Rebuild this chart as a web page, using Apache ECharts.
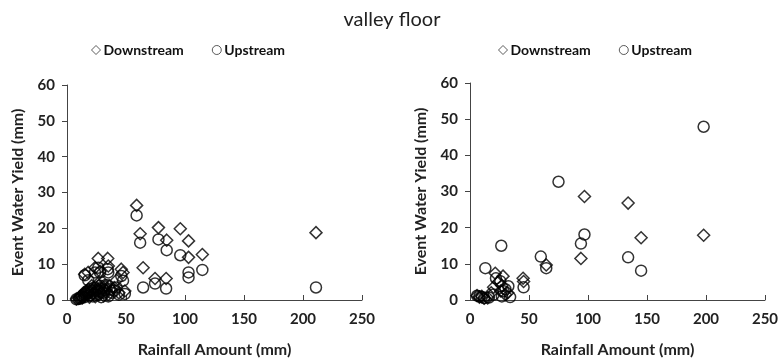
<!DOCTYPE html>
<html>
<head>
<meta charset="utf-8">
<script src="https://cdn.jsdelivr.net/npm/echarts@6/dist/echarts.min.js"></script>
<style>
  html, body { margin: 0; padding: 0; background: #fff; }
  #chart { width: 784px; height: 363px; }
</style>
</head>
<body>
<div id="chart"></div>
<script>
// left panel: each event has one rainfall and two yields
var leftRain = [8, 10, 11, 12, 13, 14, 15, 16, 17, 18, 19, 20, 21, 22, 23, 24, 25, 26, 27, 28, 29, 30, 31, 32, 33, 35, 36, 38, 40, 42, 44, 49,
                15, 18, 23.7, 26.5, 28, 34.5, 35, 46, 47.5, 59, 62, 64.5, 74.6, 77.5, 84, 84.5, 96, 103, 103, 114.7, 211];
var leftDown = [0.3, 0.5, 0.8, 1.2, 0.6, 2.0, 1.0, 2.5, 1.5, 3.0, 0.8, 2.2, 4.0, 1.8, 3.2, 0.9, 2.6, 4.5, 1.4, 3.5, 2.0, 5.0, 1.2, 3.8, 2.5, 1.5, 4.0, 2.8, 3.5, 5.5, 2.0, 2.5,
                7.2, 7.7, 9.0, 11.6, 8.0, 11.6, 9.5, 8.6, 7.7, 26.4, 18.5, 9.0, 6.0, 20.2, 6.0, 16.7, 19.9, 16.5, 11.9, 12.7, 18.8];
var leftUp = [0.2, 0.3, 0.4, 0.6, 1.0, 1.5, 0.8, 1.8, 2.2, 2.0, 1.2, 3.0, 2.5, 1.0, 3.5, 2.0, 1.5, 3.0, 2.5, 4.0, 0.8, 3.2, 2.0, 2.8, 4.2, 1.0, 3.0, 2.0, 2.6, 3.5, 1.5, 1.7,
              6.9, 5.5, 7.7, 9.0, 7.7, 8.6, 7.7, 6.7, 5.4, 23.6, 16.0, 3.5, 4.6, 16.9, 3.2, 13.9, 12.5, 7.7, 6.3, 8.4, 3.5];

// right panel
var rightDownRain = [198, 97, 94, 134, 145, 64.6, 45.4, 45, 21.4, 28, 24, 20, 26, 30, 10, 12, 8, 15, 18, 27, 32, 6];
var rightDown = [17.9, 28.6, 11.5, 26.8, 17.2, 9.7, 5.1, 6.0, 7.4, 6.6, 5.0, 3.5, 2.5, 1.5, 1.0, 0.5, 0.8, 0.6, 2.0, 4.0, 2.0, 1.2];
var rightUpRain = [198, 75, 97, 94, 134, 145, 60, 64.6, 26.5, 13, 45.4, 25.7, 32.5, 34, 28.5, 22, 10, 8, 12, 16, 30, 20, 27, 6];
var rightUp = [47.9, 32.7, 18.1, 15.6, 11.8, 8.1, 12.0, 8.8, 15.0, 8.8, 3.5, 5.2, 3.8, 0.8, 2.4, 6.0, 0.8, 1.0, 0.5, 0.7, 3.0, 1.5, 1.0, 1.2];

var xTicks = [0, 50, 100, 150, 200, 250];
var yTicks = [0, 10, 20, 30, 40, 50, 60];

function pairs(xs, ys) {
  return xs.map(function (x, i) { return [x, ys[i]]; });
}

var font = 'Lato';
var axisColor = '#444';

function xAxis(idx) {
  return {
    gridIndex: idx, type: 'value', min: xTicks[0], max: xTicks[xTicks.length - 1], interval: 50,
    name: 'Rainfall Amount (mm)', nameLocation: 'middle', nameGap: 42,
    nameTextStyle: { fontFamily: font, fontWeight: 'bold', fontSize: 16, color: '#222' },
    axisLine: { lineStyle: { color: axisColor, width: 1 } },
    axisTick: { inside: true, length: 5, lineStyle: { color: axisColor } },
    axisLabel: { margin: 12, fontFamily: font, fontWeight: 'bold', fontSize: 15, color: '#222' },
    splitLine: { show: false }
  };
}
function yAxis(idx) {
  return {
    gridIndex: idx, type: 'value', min: yTicks[0], max: yTicks[yTicks.length - 1], interval: 10,
    name: 'Event Water Yield (mm)', nameLocation: 'middle', nameGap: 41,
    nameTextStyle: { fontFamily: font, fontWeight: 'bold', fontSize: 16, color: '#222' },
    axisLine: { show: true, lineStyle: { color: axisColor, width: 1 } },
    axisTick: { show: true, length: 5, lineStyle: { color: axisColor } },
    axisLabel: { margin: 12, fontFamily: font, fontWeight: 'bold', fontSize: 15, color: '#222' },
    splitLine: { show: false }
  };
}
var hollow = { color: 'rgba(0,0,0,0)', borderColor: '#000', borderWidth: 1.5 };

function legend(left) {
  return {
    left: left, top: 38, itemWidth: 9, itemHeight: 9, itemGap: 28,
    data: [{ name: 'Downstream', icon: 'diamond' }, { name: 'Upstream', icon: 'circle' }],
    itemStyle: { color: 'rgba(0,0,0,0)', borderColor: '#333', borderWidth: 1 },
    textStyle: { fontFamily: font, fontWeight: 'bold', fontSize: 14, color: '#111', padding: [0, 0, 0, -2] }
  };
}

var chart = echarts.init(document.getElementById('chart'));
chart.setOption({
  animation: false,
  title: {
    text: 'valley floor', left: 'center', top: 5,
    textStyle: { fontFamily: font, fontWeight: 'normal', fontSize: 20, color: '#222' }
  },
  legend: [legend(86), legend(493)],
  grid: [
    { left: 67, top: 85, width: 295, height: 216 },
    { left: 470, top: 83, width: 295, height: 219 }
  ],
  xAxis: [xAxis(0), xAxis(1)],
  yAxis: [yAxis(0), yAxis(1)],
  series: [
    { name: 'Downstream', type: 'scatter', xAxisIndex: 0, yAxisIndex: 0, symbol: 'diamond', symbolSize: 12,
      itemStyle: hollow, data: pairs(leftRain, leftDown) },
    { name: 'Upstream', type: 'scatter', xAxisIndex: 0, yAxisIndex: 0, symbol: 'circle', symbolSize: 11,
      itemStyle: hollow, data: pairs(leftRain, leftUp) },
    { name: 'Downstream', type: 'scatter', xAxisIndex: 1, yAxisIndex: 1, symbol: 'diamond', symbolSize: 12,
      itemStyle: hollow, data: pairs(rightDownRain, rightDown) },
    { name: 'Upstream', type: 'scatter', xAxisIndex: 1, yAxisIndex: 1, symbol: 'circle', symbolSize: 11,
      itemStyle: hollow, data: pairs(rightUpRain, rightUp) }
  ]
});
</script>
</body>
</html>
